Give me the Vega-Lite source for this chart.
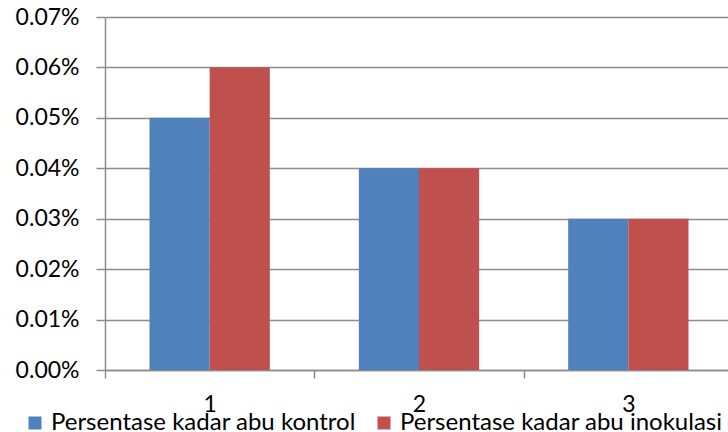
{
  "$schema": "https://vega.github.io/schema/vega-lite/v6.json",
  "width": 628,
  "height": 353,
  "autosize": {"type": "none"},
  "padding": {"left": 105, "top": 17, "right": 0, "bottom": 62},
  "background": "white",
  "config": {
    "view": {"stroke": null},
    "font": "Lato",
    "axis": {"labelFont": "Lato", "labelColor": "black", "labelFontSize": 23},
    "legend": {"labelFont": "Lato", "labelFontSize": 24, "labelColor": "black"}
  },
  "data": {
    "values": [
      {"kategori": "1", "seri": "Persentase kadar abu kontrol", "nilai": 0.0005},
      {"kategori": "1", "seri": "Persentase kadar abu inokulasi", "nilai": 0.0006},
      {"kategori": "2", "seri": "Persentase kadar abu kontrol", "nilai": 0.0004},
      {"kategori": "2", "seri": "Persentase kadar abu inokulasi", "nilai": 0.0004},
      {"kategori": "3", "seri": "Persentase kadar abu kontrol", "nilai": 0.0003},
      {"kategori": "3", "seri": "Persentase kadar abu inokulasi", "nilai": 0.0003}
    ]
  },
  "mark": {"type": "bar"},
  "encoding": {
    "x": {
      "field": "kategori",
      "type": "nominal",
      "scale": {"paddingInner": 0, "paddingOuter": 0},
      "axis": {
        "title": null,
        "labelAngle": 0,
        "tickBand": "extent",
        "domainColor": "#8c8c8c",
        "domainWidth": 1.5,
        "tickColor": "#8c8c8c",
        "tickWidth": 1.5,
        "tickSize": 8,
        "labelPadding": 15,
        "grid": false
      }
    },
    "xOffset": {
      "field": "seri",
      "type": "nominal",
      "sort": ["Persentase kadar abu kontrol", "Persentase kadar abu inokulasi"],
      "scale": {"paddingInner": 0, "paddingOuter": 0.74}
    },
    "y": {
      "field": "nilai",
      "type": "quantitative",
      "scale": {"domain": [0, 0.0007], "nice": false},
      "axis": {
        "title": null,
        "format": ".2%",
        "values": [0, 0.0001, 0.0002, 0.0003, 0.0004, 0.0005, 0.0006, 0.0007],
        "labelOverlap": false,
        "labelBound": false,
        "labelFlush": false,
        "grid": true,
        "gridColor": "#8c8c8c",
        "gridWidth": 1.5,
        "domainColor": "#8c8c8c",
        "domainWidth": 1.5,
        "tickColor": "#8c8c8c",
        "tickWidth": 1.5,
        "tickSize": 9,
        "labelPadding": 17
      }
    },
    "color": {
      "field": "seri",
      "type": "nominal",
      "sort": ["Persentase kadar abu kontrol", "Persentase kadar abu inokulasi"],
      "scale": {
        "domain": ["Persentase kadar abu kontrol", "Persentase kadar abu inokulasi"],
        "range": ["#4F81BD", "#C0504D"]
      },
      "legend": {
        "title": null,
        "orient": "none",
        "direction": "horizontal",
        "legendX": -82,
        "legendY": 394,
        "symbolType": "square",
        "symbolSize": 169,
        "symbolStrokeWidth": 0,
        "labelLimit": 400,
        "columnPadding": 16,
        "labelOffset": 4
      }
    }
  }
}
